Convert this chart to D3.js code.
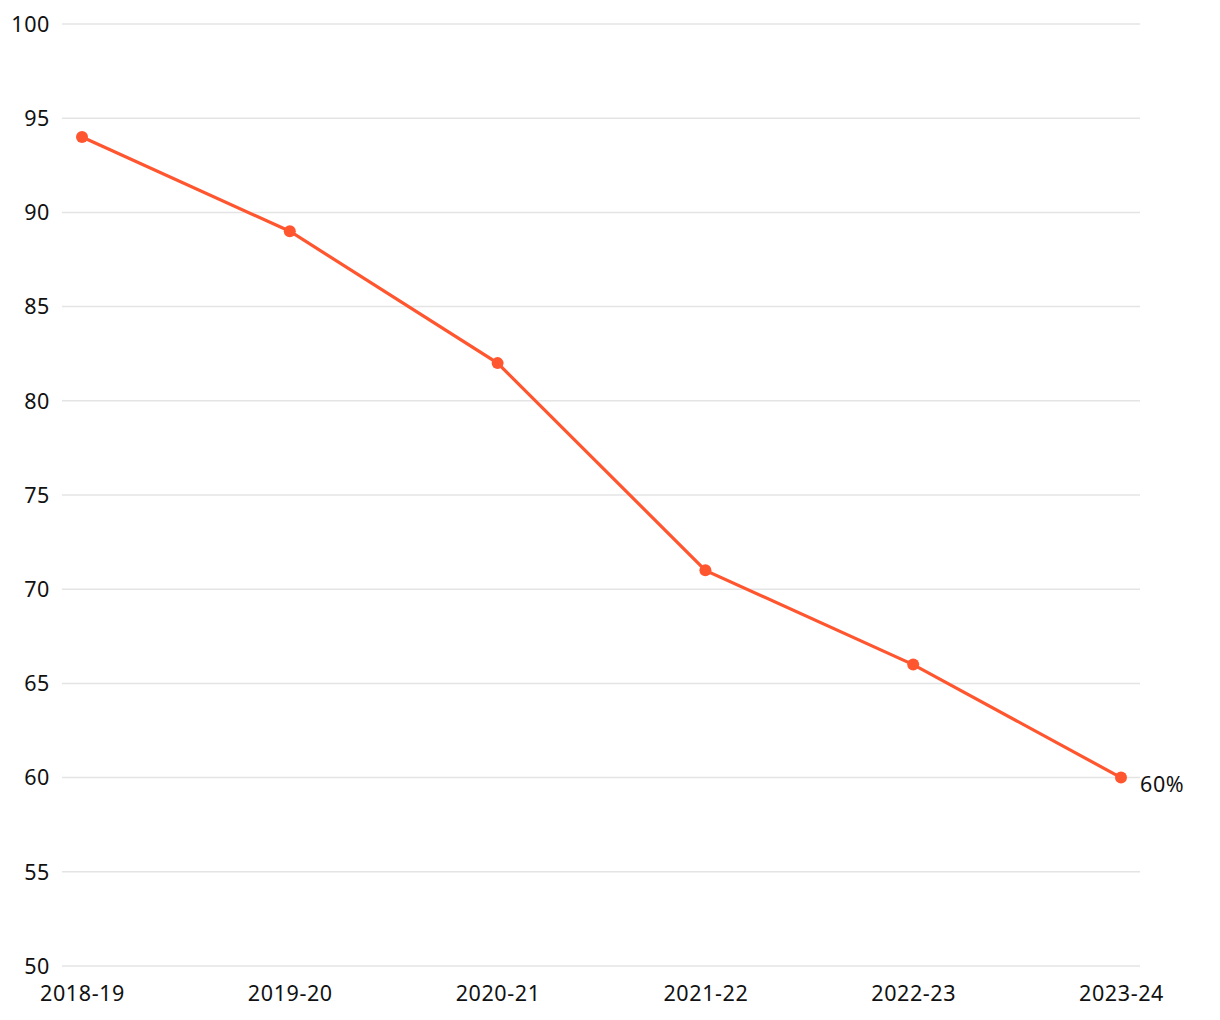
<!DOCTYPE html>
<html><head><meta charset="utf-8">
<script src="https://cdn.jsdelivr.net/npm/d3@7"></script>
<style>
body{margin:0;background:#fff;}
svg text{font-family:"Noto Sans",Lato,sans-serif;fill:#111;}
</style></head>
<body><svg id="c" width="1220" height="1020"></svg>
<script>
const categories = ["2018-19","2019-20","2020-21","2021-22","2022-23","2023-24"];
const values = [94, 89, 82, 71, 66, 60];
const yTicks = [50,55,60,65,70,75,80,85,90,95,100];
const endLabel = "60%";

const svg = d3.select("#c");
const x = d3.scalePoint().domain(categories).range([82,1121]);
const y = d3.scaleLinear().domain([50,100]).range([966,24]);

const grid = svg.append("g");
grid.selectAll("line").data(yTicks).join("line")
  .attr("x1",62).attr("x2",1140)
  .attr("y1",d=>y(d)).attr("y2",d=>y(d))
  .attr("stroke","#e4e4e4").attr("stroke-width",1.5);

const yAxis = svg.append("g").attr("transform","translate(50,0)")
  .call(d3.axisLeft(y).tickValues(yTicks).tickSize(0).tickPadding(0));
yAxis.select(".domain").remove();
yAxis.selectAll("text").attr("font-size",21.5).attr("letter-spacing",0.6).attr("dy","0.34em");

const xAxis = svg.append("g").attr("transform","translate(0,986)")
  .call(d3.axisBottom(x).tickSize(0).tickPadding(0));
xAxis.select(".domain").remove();
xAxis.selectAll("text").attr("font-size",21.5).attr("letter-spacing",0.6).attr("dy","0.71em");

const data = categories.map((c,i)=>({c,v:values[i]}));
svg.append("path").datum(data)
  .attr("fill","none").attr("stroke","#ff5630").attr("stroke-width",3.2)
  .attr("d",d3.line().x(d=>x(d.c)).y(d=>y(d.v)));
svg.selectAll("circle.p").data(data).join("circle").attr("class","p")
  .attr("cx",d=>x(d.c)).attr("cy",d=>y(d.v)).attr("r",6).attr("fill","#ff5630");

const last = data[data.length-1];
svg.append("text").attr("x",x(last.c)+19).attr("y",y(last.v)+14)
  .attr("font-size",21.5).attr("letter-spacing",0.6).text(endLabel);
</script></body></html>
